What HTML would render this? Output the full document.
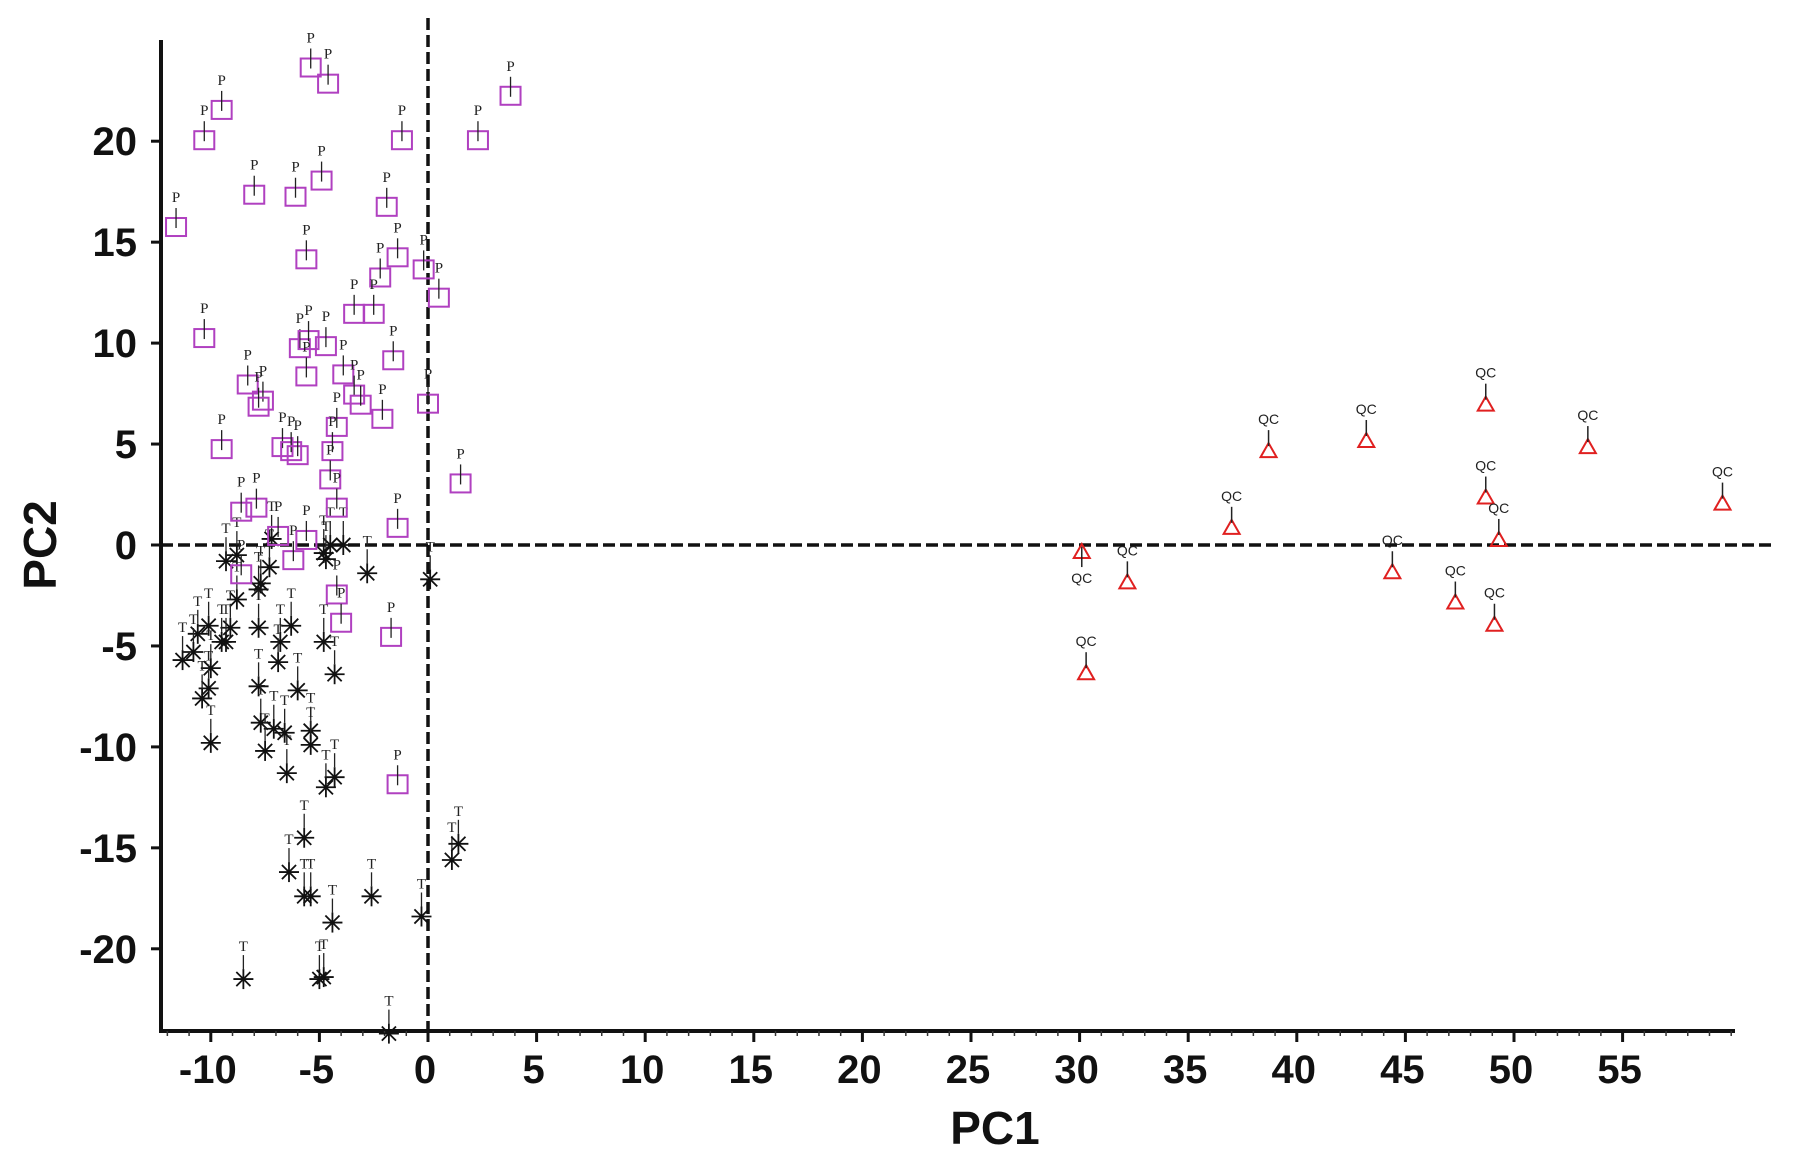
<!DOCTYPE html>
<html><head><meta charset="utf-8"><style>
html,body{margin:0;padding:0;background:#fff}
svg{display:block}
.tick{font-family:"Liberation Sans",sans-serif;font-weight:bold;font-size:40px;fill:#111}
.ax{font-family:"Liberation Sans",sans-serif;font-weight:bold;font-size:46px;fill:#111}
.pl{font-family:"Liberation Serif",serif;font-size:15px;fill:#222}
.ql{font-family:"Liberation Sans",sans-serif;font-size:14px;fill:#222}
</style></head><body>
<svg id="chart" width="1795" height="1164" viewBox="0 0 1795 1164" xmlns="http://www.w3.org/2000/svg"></svg>
<script>
const xTicks=[-10,-5,0,5,10,15,20,25,30,35,40,45,50,55];
const yTicks=[-20,-15,-10,-5,0,5,10,15,20];
const pX=[-5.4,-4.6,-9.5,-10.3,-1.2,2.3,3.8,-11.6,-8.0,-6.1,-4.9,-1.9,-5.6,-1.4,-2.2,-0.2,0.5,-3.4,-2.5,-10.3,-5.9,-5.5,-4.7,-1.6,-8.3,-7.6,-7.8,-5.6,-3.9,-3.4,-3.1,-2.1,0,-4.2,-9.5,-6.7,-6.3,-6.0,-4.4,-4.5,1.5,-8.6,-7.9,-4.2,-1.4,-6.9,-5.6,-6.2,-8.6,-4.2,-4.0,-1.7,-1.4];
const pY=[23.6,22.8,21.5,20,20,20,22.2,15.7,17.3,17.2,18,16.7,14.1,14.2,13.2,13.6,12.2,11.4,11.4,10.2,9.7,10.1,9.8,9.1,7.9,7.1,6.8,8.3,8.4,7.4,6.9,6.2,6.95,5.8,4.7,4.8,4.6,4.4,4.6,3.2,3.0,1.6,1.8,1.8,0.8,0.4,0.2,-0.8,-1.5,-2.5,-3.9,-4.6,-11.9];
const tX=[-8.8,-9.3,-7.3,-7.7,-7.8,-4.8,-4.5,-3.9,-4.7,-2.8,0.1,-8.8,-10.1,-10.6,-9.1,-9.5,-9.3,-10.8,-11.3,-7.8,-6.8,-6.3,-6.9,-4.8,-10.0,-10.1,-10.4,-7.8,-6.0,-4.3,-7.7,-7.1,-6.6,-5.4,-5.4,-10.0,-7.5,-6.5,-4.3,-4.7,-5.7,1.1,1.4,-6.4,-5.7,-5.4,-2.6,-4.4,-0.3,-8.5,-5.0,-4.8,-1.8,-7.2];
const tY=[-0.5,-0.8,-1.1,-1.9,-2.2,-0.4,0,0,-0.7,-1.4,-1.7,-2.7,-4.0,-4.4,-4.1,-4.8,-4.8,-5.3,-5.7,-4.1,-4.8,-4.0,-5.8,-4.8,-6.1,-7.1,-7.6,-7.0,-7.2,-6.4,-8.8,-9.1,-9.3,-9.2,-9.9,-9.8,-10.2,-11.3,-11.5,-12.0,-14.5,-15.6,-14.8,-16.2,-17.4,-17.4,-17.4,-18.7,-18.4,-21.5,-21.5,-21.4,-24.2,0.3];
const qX=[48.7,43.2,38.7,53.4,48.7,59.6,37.0,49.3,30.1,32.2,44.4,47.3,49.1,30.3];
const qY=[7.0,5.2,4.7,4.9,2.4,2.1,0.9,0.3,-0.3,-1.8,-1.3,-2.8,-3.9,-6.3];

const NS="http://www.w3.org/2000/svg";
const svg=document.getElementById('chart');
const X0=428,XS=21.72,Y0=545,YS=20.19;
function sx(v){return X0+XS*v;}
function sy(v){return Y0-YS*v;}
function mk(tag,attrs,parent){const e=document.createElementNS(NS,tag);for(const k in attrs)e.setAttribute(k,attrs[k]);(parent||svg).appendChild(e);return e;}
const L=161,R=1735,T=40,B=1031;

let g=mk('g',{});


let ya=mk('line',{x1:L,y1:T,x2:L,y2:B+2,stroke:'#111','stroke-width':4},g);


let xa=mk('line',{x1:L-2,y1:B,x2:R,y2:B,stroke:'#111','stroke-width':4},g);


for(let v=-12;v<=60;v++){
  mk('line',{x1:sx(v),y1:B,x2:sx(v),y2:B+5,stroke:'#333','stroke-width':1.5},g);
}
xTicks.forEach(v=>{
  mk('line',{x1:sx(v),y1:B,x2:sx(v),y2:B+11,stroke:'#111','stroke-width':3},g);
  const t=mk('text',{x:sx(v)-3,y:B+52,'text-anchor':'middle',class:'tick'},g);
  t.textContent=v;
  
  
});
yTicks.forEach(v=>{
  mk('line',{x1:L-10,y1:sy(v),x2:L,y2:sy(v),stroke:'#111','stroke-width':3},g);
  const t=mk('text',{x:L-24,y:sy(v)+14,'text-anchor':'end',class:'tick'},g);
  t.textContent=v;
  
  
});
let xt=mk('text',{x:995,y:1144,'text-anchor':'middle',class:'ax'});
xt.textContent='PC1';


let yt=mk('text',{x:0,y:0,'text-anchor':'middle',class:'ax',transform:'translate(56,545) rotate(-90)'});
yt.textContent='PC2';



let hz=mk('line',{x1:L,y1:sy(0),x2:1774,y2:sy(0),stroke:'#111','stroke-width':3.5,'stroke-dasharray':'12,5'});


let vz=mk('line',{x1:sx(0),y1:18,x2:sx(0),y2:B,stroke:'#111','stroke-width':3.5,'stroke-dasharray':'12,5'});



const gt=mk('g',{});


tX.forEach((v,i)=>{
  const cx=sx(v),cy=sy(tY[i]);
  const a=mk('g',{},gt);
  
  
  for(let k=0;k<4;k++){
    const ang=k*Math.PI/4,r=10;
    mk('line',{x1:cx-r*Math.cos(ang),y1:cy-r*Math.sin(ang),x2:cx+r*Math.cos(ang),y2:cy+r*Math.sin(ang),stroke:'#111','stroke-width':1.8},a);
  }
  mk('line',{x1:cx,y1:cy-10,x2:cx,y2:cy-24,stroke:'#222','stroke-width':1.3},a);
  const t=mk('text',{x:cx,y:cy-28,'text-anchor':'middle',class:'pl'},a);
  t.textContent='T';
});

const gp=mk('g',{});


pX.forEach((v,i)=>{
  const cx=sx(v),cy=sy(pY[i]);
  const a=mk('g',{},gp);
  
  
  mk('rect',{x:cx-10,y:cy-10,width:20,height:18,fill:'none',stroke:'#b040c0','stroke-width':2},a);
  mk('line',{x1:cx,y1:cy,x2:cx,y2:cy-20,stroke:'#222','stroke-width':1.3},a);
  const t=mk('text',{x:cx,y:cy-26,'text-anchor':'middle',class:'pl'},a);
  t.textContent='P';
});

const gq=mk('g',{});


qX.forEach((v,i)=>{
  const cx=sx(v),cy=sy(qY[i]);
  const a=mk('g',{},gq);
  
  
  mk('polygon',{points:`${cx},${cy-7} ${cx-8},${cy+7} ${cx+8},${cy+7}`,fill:'none',stroke:'#e02020','stroke-width':2},a);
  const below=(i===8);
  mk('line',{x1:cx,y1:cy-4,x2:cx,y2:below?cy+16:cy-20,stroke:'#222','stroke-width':1.5},a);
  const t=mk('text',{x:cx,y:below?cy+32:cy-26,'text-anchor':'middle',class:'ql'},a);
  t.textContent='QC';
});
</script>
</body></html>
